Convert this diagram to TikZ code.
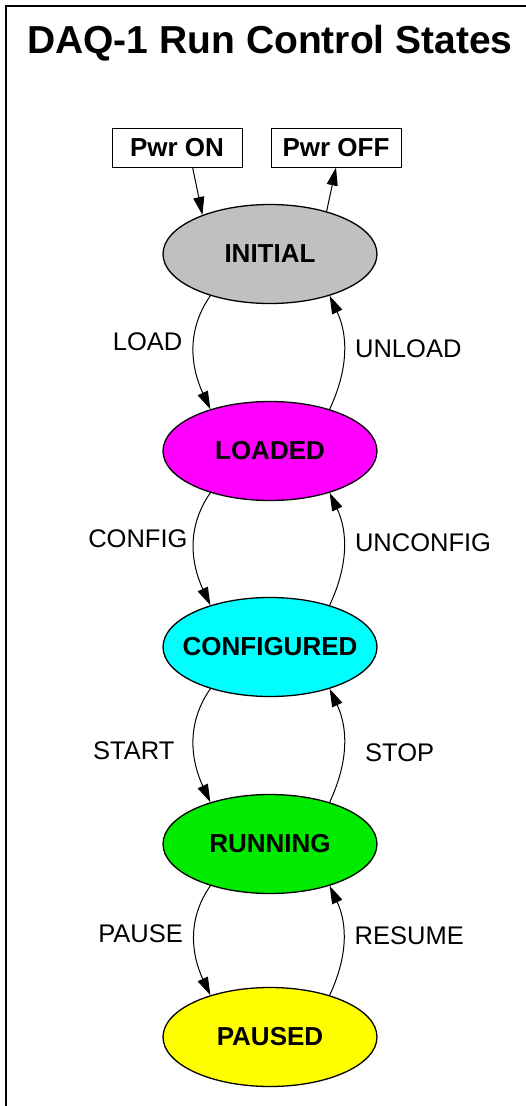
\documentclass[tikz,border=0pt]{standalone}
\usepackage{fontspec}
\setmainfont{Liberation Sans}
\usepackage{tikz}
\usetikzlibrary{arrows.meta, shapes.geometric}
\usepackage{xcolor}
\definecolor{initgray}{RGB}{192,192,192}
\definecolor{loadmag}{RGB}{255,0,255}
\definecolor{confcyan}{RGB}{0,255,255}
\definecolor{rungreen}{RGB}{0,235,0}
\definecolor{pauseyel}{RGB}{255,255,0}

\begin{document}
\begin{tikzpicture}[x=1pt, y=1pt, >={Triangle[length=18pt,width=11pt]},
  state/.style={ellipse, draw, line width=1.3pt, minimum width=214pt, minimum height=99pt,
    inner sep=0pt, font=\fontsize{26}{30}\selectfont\bfseries,
    execute at begin node={\hbox to 0pt\bgroup\hss}, execute at end node={\hss\egroup}},
  pwrbox/.style={rectangle, draw, line width=1pt, minimum width=130pt, minimum height=39pt,
    inner sep=0pt, font=\fontsize{26}{30}\selectfont\bfseries},
  lbl/.style={inner sep=11pt, font=\fontsize{25.5}{30}\selectfont},
  trans/.style={->, line width=1pt}]
  \useasboundingbox (0,0) rectangle (526,-1106);
  \draw[line width=2pt] (5.5,-1106) -- (5.5,-5.5) -- (526,-5.5);

  % Nodes
  \node[anchor=base, font=\fontsize{39}{44}\selectfont\bfseries] (title) at (270,-53) {DAQ-1 Run Control States};
  \node[pwrbox] (pwron) at (177,-147.5) {Pwr ON};
  \node[pwrbox] (pwroff) at (336,-147.5) {Pwr OFF};
  \node[state, fill=initgray] (initial) at (270,-254) {INITIAL};
  \node[state, fill=loadmag] (loaded) at (270,-451) {LOADED};
  \node[state, fill=confcyan] (configured) at (270,-647) {CONFIGURED};
  \node[state, fill=rungreen] (running) at (270,-844) {RUNNING};
  \node[state, fill=pauseyel] (paused) at (270,-1037) {PAUSED};

  % Arrows
  \draw[trans] (pwron.308) -- (initial.150);
  \draw[trans] (initial.37) -- (pwroff.south);
  \draw[trans] (initial.215) to[out=235,in=115] node[lbl,left,yshift=9pt] {LOAD} (loaded.145);
  \draw[trans] (loaded.35) to[out=65,in=295] node[lbl,right,yshift=4pt] {UNLOAD} (initial.325);
  \draw[trans] (loaded.215) to[out=235,in=115] node[lbl,left,xshift=5pt,yshift=9pt] {CONFIG} (configured.145);
  \draw[trans] (configured.35) to[out=65,in=295] node[lbl,right,yshift=6pt] {UNCONFIG} (loaded.325);
  \draw[trans] (configured.215) to[out=235,in=115] node[lbl,left,xshift=-8pt,yshift=-7pt] {START} (running.145);
  \draw[trans] (running.35) to[out=65,in=295] node[lbl,right,xshift=10pt,yshift=-7pt] {STOP} (configured.325);
  \draw[trans] (running.215) to[out=235,in=115] node[lbl,left,yshift=5pt] {PAUSE} (paused.145);
  \draw[trans] (paused.35) to[out=65,in=295] node[lbl,right,yshift=5pt] {RESUME} (running.325);
\end{tikzpicture}
\end{document}
